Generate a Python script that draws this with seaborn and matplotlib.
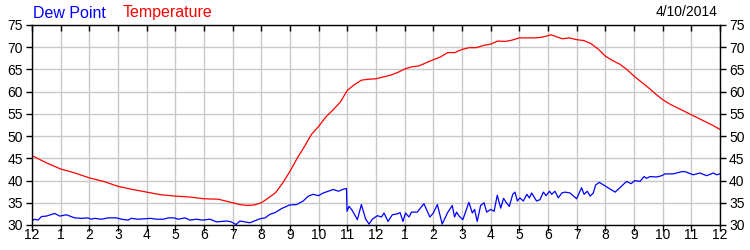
import matplotlib
matplotlib.use("Agg")
import matplotlib.pyplot as plt
import seaborn as sns
import pandas as pd

# ---- data (hours since midnight, °F) ----
temp_hours = [0, 0.25, 0.5, 0.75, 1, 1.5, 2, 2.5, 3, 3.5, 4, 4.5, 5, 5.5, 6, 6.5, 7, 7.25,
              7.5, 7.75, 8, 8.25, 8.5, 8.75, 9, 9.25, 9.5, 9.75, 10, 10.25, 10.5, 10.75, 11,
              11.25, 11.5, 11.75, 12, 12.25, 12.5, 12.75, 13, 13.25, 13.5, 13.75, 14, 14.25,
              14.5, 14.75, 15, 15.25, 15.5, 15.75, 16, 16.25, 16.5, 16.75, 17, 17.5, 17.75,
              18, 18.1, 18.5, 18.75, 19, 19.25, 19.5, 19.75, 20, 20.25, 20.5, 20.75, 21,
              21.25, 21.5, 21.75, 22, 22.25, 22.5, 22.75, 23, 23.25, 23.5, 23.75, 24]
temp_values = [45.6, 44.8, 44.0, 43.3, 42.6, 41.7, 40.6, 39.8, 38.7, 38.0, 37.4, 36.8, 36.5,
               36.3, 35.9, 35.8, 35.0, 34.6, 34.4, 34.5, 35.0, 36.1, 37.3, 39.5, 42.1, 45.0,
               47.6, 50.4, 52.2, 54.3, 55.9, 57.6, 60.3, 61.6, 62.6, 62.8, 62.9, 63.3, 63.7,
               64.3, 65.1, 65.6, 65.8, 66.5, 67.2, 67.8, 68.8, 68.8, 69.5, 69.9, 69.9, 70.4,
               70.7, 71.4, 71.3, 71.6, 72.1, 72.1, 72.2, 72.6, 72.8, 71.9, 72.1, 71.7, 71.5,
               70.8, 69.6, 68.0, 67.0, 66.2, 65.0, 63.5, 62.2, 60.9, 59.5, 58.2, 57.2, 56.4,
               55.6, 54.8, 54.0, 53.2, 52.4, 51.5]

dew_hours = [0.0, 0.09, 0.21, 0.33, 0.5, 0.79, 0.97, 1.2, 1.49, 1.72, 1.95, 2.07, 2.19, 2.42,
             2.65, 2.95, 3.12, 3.35, 3.46, 3.7, 3.95, 4.12, 4.35, 4.58, 4.75, 4.96, 5.1, 5.34,
             5.51, 5.74, 5.94, 6.21, 6.44, 6.79, 6.95, 7.12, 7.25, 7.6, 7.95, 8.13, 8.3, 8.48,
             8.71, 8.98, 9.23, 9.46, 9.64, 9.81, 9.99, 10.16, 10.34, 10.51, 10.69, 10.88,
             10.97, 10.99, 11.06, 11.17, 11.35, 11.49, 11.64, 11.76, 11.87, 12.05, 12.19,
             12.28, 12.42, 12.57, 12.74, 12.84, 12.94, 13.03, 13.15, 13.24, 13.44, 13.67,
             13.88, 14.0, 14.14, 14.31, 14.49, 14.66, 14.74, 14.81, 14.9, 15.03, 15.24, 15.36,
             15.44, 15.53, 15.65, 15.77, 15.86, 16.0, 16.12, 16.23, 16.35, 16.45, 16.55,
             16.65, 16.77, 16.85, 16.93, 17.02, 17.14, 17.26, 17.35, 17.43, 17.6, 17.72,
             17.84, 17.93, 18.05, 18.13, 18.24, 18.36, 18.48, 18.59, 18.77, 19.0, 19.17,
             19.26, 19.37, 19.47, 19.58, 19.66, 19.79, 20.34, 20.51, 20.74, 20.9, 21.03,
             21.21, 21.35, 21.44, 21.56, 21.79, 21.97, 22.08, 22.37, 22.66, 22.78, 23.07,
             23.3, 23.53, 23.77, 23.88, 24.0]
dew_values = [30.9, 31.3, 31.1, 31.9, 32.0, 32.6, 32.0, 32.3, 31.6, 31.5, 31.6, 31.3, 31.5,
              31.3, 31.6, 31.6, 31.3, 31.1, 31.5, 31.3, 31.4, 31.5, 31.3, 31.3, 31.6, 31.6,
              31.3, 31.6, 31.1, 31.3, 31.1, 31.3, 30.7, 30.9, 30.7, 30.1, 30.9, 30.5, 31.4,
              31.6, 32.4, 32.8, 33.7, 34.5, 34.6, 35.4, 36.5, 36.9, 36.6, 37.2, 37.6, 38.0,
              37.6, 38.1, 38.2, 33.1, 34.2, 33.3, 31.2, 34.6, 31.3, 30.2, 31.3, 32.1, 31.8,
              32.7, 30.8, 32.3, 32.5, 32.8, 30.8, 32.7, 31.8, 32.9, 32.9, 34.8, 31.8, 32.7,
              34.6, 30.2, 32.7, 34.4, 31.8, 32.9, 32.0, 31.2, 35.1, 32.7, 33.5, 30.8, 34.4,
              35.0, 32.9, 33.5, 33.1, 36.7, 33.8, 36.0, 35.0, 34.2, 36.9, 37.4, 35.4, 36.1,
              35.4, 36.9, 36.1, 37.2, 35.4, 35.7, 37.4, 36.6, 37.6, 36.9, 37.6, 36.1, 37.2,
              37.4, 37.2, 35.9, 38.4, 36.9, 37.6, 36.5, 37.2, 39.0, 39.6, 37.4, 38.4, 39.8,
              39.3, 40.0, 39.8, 40.9, 40.5, 40.9, 40.8, 41.1, 41.5, 41.5, 42.0, 42.0, 41.3,
              41.7, 41.1, 41.7, 41.3, 41.5]

x_tick_labels = ["12", "1", "2", "3", "4", "5", "6", "7", "8", "9", "10", "11",
                 "12", "1", "2", "3", "4", "5", "6", "7", "8", "9", "10", "11", "12"]
y_ticks = [30, 35, 40, 45, 50, 55, 60, 65, 70, 75]
series_names = ["Dew Point", "Temperature"]
date_label = "4/10/2014"

# ---- plotting ----
sns.set_style("white")
plt.rcParams["font.family"] = ["Liberation Sans", "DejaVu Sans"]

df_t = pd.DataFrame({"hour": temp_hours, "value": temp_values})
df_d = pd.DataFrame({"hour": dew_hours, "value": dew_values})

fig = plt.figure(figsize=(7.5, 2.5), dpi=100)
ax = fig.add_axes([32 / 750, 25 / 250, 688 / 750, 200 / 250])

sns.lineplot(data=df_d, x="hour", y="value", ax=ax, color="#0000FF", linewidth=0.9)
sns.lineplot(data=df_t, x="hour", y="value", ax=ax, color="#FF0000", linewidth=0.9)

ax.set_xlim(0, 24)
ax.set_ylim(30, 75)
ax.set_xticks(range(25))
ax.set_xticklabels(x_tick_labels)
ax.set_yticks(y_ticks)
ax.set_xlabel("")
ax.set_ylabel("")
ax.grid(True, color="#C8C8C8", linewidth=1.0)
ax.set_axisbelow(True)
for s in ax.spines.values():
    s.set_color("black")
    s.set_linewidth(1.0)
    s.set_visible(True)

ax.tick_params(axis="x", which="both", bottom=True, top=True, direction="out",
               length=4.5, width=1, labelsize=10, pad=2, colors="black")
ax.tick_params(axis="x", which="both", top=True, direction="in")
ax.tick_params(axis="y", which="both", left=True, right=True, labelleft=True,
               labelright=True, length=4.5, width=1, labelsize=10, pad=2, colors="black")
# left ticks out, right ticks in
for t in ax.yaxis.get_major_ticks():
    t.tick1line.set_marker(matplotlib.lines.TICKLEFT)
    t.tick2line.set_marker(matplotlib.lines.TICKLEFT)
for t in ax.xaxis.get_major_ticks():
    t.tick1line.set_marker(matplotlib.lines.TICKDOWN)
    t.tick2line.set_marker(matplotlib.lines.TICKDOWN)
ax.yaxis.set_tick_params(which="major", pad=2)

fig.text(33 / 750, 1 - 13 / 250, series_names[0], color="#0000FF", fontsize=11.5,
         ha="left", va="center")
fig.text(123 / 750, 1 - 13 / 250, series_names[1], color="#FF0000", fontsize=11.5,
         ha="left", va="center")
fig.text(718 / 750, 1 - 12 / 250, date_label, color="black", fontsize=10,
         ha="right", va="center")

fig.savefig("out.png", dpi=100)
